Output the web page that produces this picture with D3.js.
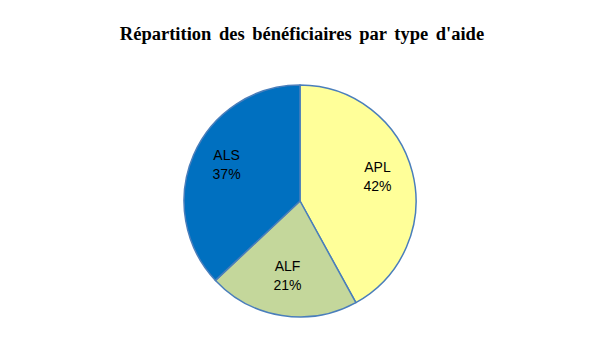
<!DOCTYPE html>
<html><head><meta charset="utf-8">
<script src="https://cdn.jsdelivr.net/npm/d3@7"></script>
<style>body{margin:0;background:#fff}</style>
</head><body>
<svg id="c" width="600" height="360"></svg>
<script>
const title = "Répartition des bénéficiaires par type d'aide";
const categories = ["APL", "ALF", "ALS"];
const values = [42, 21, 37];
const colors = ["#FFFF99", "#C4D79B", "#0070C0"];

const svg = d3.select("#c");
svg.append("rect").attr("width",600).attr("height",360).attr("fill","#fff");
svg.append("text").attr("x",302).attr("y",40).attr("text-anchor","middle")
  .attr("font-family","'Liberation Serif', serif").attr("font-weight","bold")
  .attr("font-size",18.5).attr("word-spacing",3).text(title);

const cx = 300, cy = 201, r = 116;
const pie = d3.pie().sort(null).value(d => d.v);
const data = pie(categories.map((c,i)=>({c, v:values[i], col:colors[i]})));
const arc = d3.arc().innerRadius(0).outerRadius(r);
const labelArc = d3.arc().innerRadius(80).outerRadius(80);
const g = svg.append("g").attr("transform",`translate(${cx},${cy})`);
g.selectAll("path").data(data).join("path")
  .attr("d", arc).attr("fill", d=>d.data.col)
  .attr("stroke","#4A7EBB").attr("stroke-width",1.5).attr("stroke-linejoin","round");
const lab = g.selectAll("text").data(data).join("text")
  .attr("transform", d=>{const [x,y]=labelArc.centroid(d); return `translate(${x},${y-6})`;})
  .attr("text-anchor","middle").attr("font-family","'Liberation Sans', sans-serif")
  .attr("font-size",14).attr("fill","#000");
lab.append("tspan").attr("x",0).attr("dy","-0.2em").text(d=>d.data.c);
lab.append("tspan").attr("x",0).attr("dy","1.35em").text(d=>Math.round(d.data.v/d3.sum(values)*100)+"%");
</script>
</body></html>
